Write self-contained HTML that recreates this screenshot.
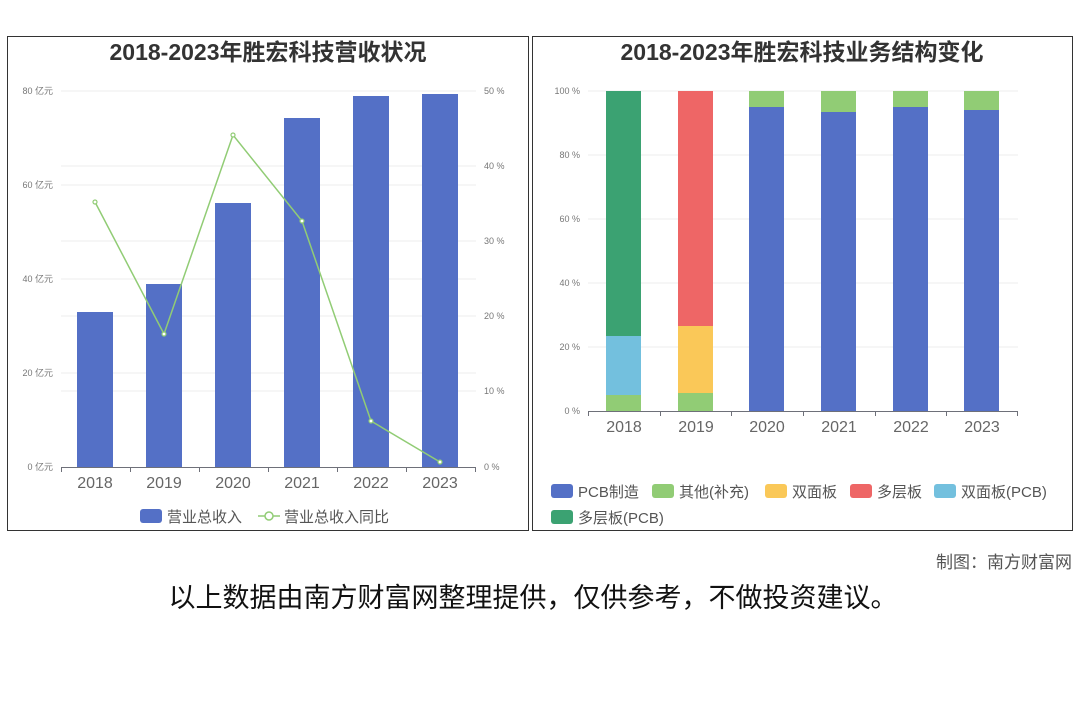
<!DOCTYPE html>
<html><head><meta charset="utf-8"><style>
body{margin:0;background:#fff;width:1080px;height:720px;overflow:hidden;font-family:"Liberation Sans","Noto Sans CJK SC",sans-serif}
svg text{font-family:"Liberation Sans","Noto Sans CJK SC",sans-serif}
</style></head><body>
<svg width="1080" height="720" xmlns="http://www.w3.org/2000/svg">
<rect x="7.5" y="36.5" width="521" height="494" fill="#fff" stroke="#333" stroke-width="1"/>
<rect x="532.5" y="36.5" width="540" height="494" fill="#fff" stroke="#333" stroke-width="1"/>
<text x="268" y="60" text-anchor="middle" font-size="23" font-weight="bold" fill="#333">2018-2023年胜宏科技营收状况</text>
<text x="802" y="60" text-anchor="middle" font-size="23" font-weight="bold" fill="#333">2018-2023年胜宏科技业务结构变化</text>
<g stroke="#eee" stroke-width="1">
<line x1="61" x2="476" y1="91" y2="91"/><line x1="61" x2="476" y1="185" y2="185"/><line x1="61" x2="476" y1="279" y2="279"/><line x1="61" x2="476" y1="373" y2="373"/>
<line x1="61" x2="476" y1="166" y2="166"/><line x1="61" x2="476" y1="241" y2="241"/><line x1="61" x2="476" y1="316" y2="316"/><line x1="61" x2="476" y1="391" y2="391"/>
</g>
<g font-size="9" fill="#777" text-anchor="end">
<text x="53" y="94">80 亿元</text><text x="53" y="188">60 亿元</text><text x="53" y="282">40 亿元</text><text x="53" y="376">20 亿元</text><text x="53" y="470">0 亿元</text>
</g>
<g font-size="9" fill="#777">
<text x="484" y="94">50 %</text><text x="484" y="169">40 %</text><text x="484" y="244">30 %</text><text x="484" y="319">20 %</text><text x="484" y="394">10 %</text><text x="484" y="470">0 %</text>
</g>
<g fill="#5470c6">
<rect x="77" y="312" width="36" height="155"/><rect x="146" y="284" width="36" height="183"/><rect x="215" y="203" width="36" height="264"/><rect x="284" y="118" width="36" height="349"/><rect x="353" y="96" width="36" height="371"/><rect x="422" y="94" width="36" height="373"/>
</g>
<line x1="61" x2="476" y1="467.5" y2="467.5" stroke="#6e7079"/>
<g stroke="#6e7079"><line x1="61.5" x2="61.5" y1="467" y2="472"/><line x1="130.5" x2="130.5" y1="467" y2="472"/><line x1="199.5" x2="199.5" y1="467" y2="472"/><line x1="268.5" x2="268.5" y1="467" y2="472"/><line x1="337.5" x2="337.5" y1="467" y2="472"/><line x1="406.5" x2="406.5" y1="467" y2="472"/><line x1="475.5" x2="475.5" y1="467" y2="472"/></g>
<g font-size="16" fill="#666" text-anchor="middle">
<text x="95" y="488">2018</text><text x="164" y="488">2019</text><text x="233" y="488">2020</text><text x="302" y="488">2021</text><text x="371" y="488">2022</text><text x="440" y="488">2023</text>
</g>
<polyline points="95,202 164,334 233,135 302,221 371,421 440,462" fill="none" stroke="#91cc75" stroke-width="1.5"/>
<g fill="#fff" stroke="#91cc75" stroke-width="1.2">
<circle cx="95" cy="202" r="2"/><circle cx="164" cy="334" r="2"/><circle cx="233" cy="135" r="2"/><circle cx="302" cy="221" r="2"/><circle cx="371" cy="421" r="2"/><circle cx="440" cy="462" r="2"/>
</g>
<rect x="140" y="509" width="22" height="14" rx="3" fill="#5470c6"/>
<text x="167" y="522" font-size="15" fill="#555">营业总收入</text>
<line x1="258" x2="280" y1="516" y2="516" stroke="#91cc75" stroke-width="1.5"/><circle cx="269" cy="516" r="4" fill="#fff" stroke="#91cc75" stroke-width="1.5"/>
<text x="284" y="522" font-size="15" fill="#555">营业总收入同比</text>
<g stroke="#eee"><line x1="588" x2="1018" y1="91" y2="91"/><line x1="588" x2="1018" y1="155" y2="155"/><line x1="588" x2="1018" y1="219" y2="219"/><line x1="588" x2="1018" y1="283" y2="283"/><line x1="588" x2="1018" y1="347" y2="347"/></g>
<g font-size="9" fill="#777" text-anchor="end">
<text x="580" y="94">100 %</text><text x="580" y="158">80 %</text><text x="580" y="222">60 %</text><text x="580" y="286">40 %</text><text x="580" y="350">20 %</text><text x="580" y="414">0 %</text>
</g>
<rect x="606" y="91" width="35" height="245" fill="#3ba272"/>
<rect x="606" y="336" width="35" height="59" fill="#73c0de"/>
<rect x="606" y="395" width="35" height="16" fill="#91cc75"/>
<rect x="678" y="91" width="35" height="235" fill="#ee6666"/>
<rect x="678" y="326" width="35" height="67" fill="#fac858"/>
<rect x="678" y="393" width="35" height="18" fill="#91cc75"/>
<rect x="749" y="91" width="35" height="16" fill="#91cc75"/><rect x="749" y="107" width="35" height="304" fill="#5470c6"/>
<rect x="821" y="91" width="35" height="21" fill="#91cc75"/><rect x="821" y="112" width="35" height="299" fill="#5470c6"/>
<rect x="893" y="91" width="35" height="16" fill="#91cc75"/><rect x="893" y="107" width="35" height="304" fill="#5470c6"/>
<rect x="964" y="91" width="35" height="19" fill="#91cc75"/><rect x="964" y="110" width="35" height="301" fill="#5470c6"/>
<line x1="588" x2="1018" y1="411.5" y2="411.5" stroke="#6e7079"/>
<g stroke="#6e7079"><line x1="588.5" x2="588.5" y1="411" y2="416"/><line x1="660.5" x2="660.5" y1="411" y2="416"/><line x1="731.5" x2="731.5" y1="411" y2="416"/><line x1="803.5" x2="803.5" y1="411" y2="416"/><line x1="875.5" x2="875.5" y1="411" y2="416"/><line x1="946.5" x2="946.5" y1="411" y2="416"/><line x1="1017.5" x2="1017.5" y1="411" y2="416"/></g>
<g font-size="16" fill="#666" text-anchor="middle">
<text x="624" y="432">2018</text><text x="696" y="432">2019</text><text x="767" y="432">2020</text><text x="839" y="432">2021</text><text x="911" y="432">2022</text><text x="982" y="432">2023</text>
</g>
<g font-size="15" fill="#555">
<rect x="551" y="484" width="22" height="14" rx="3" fill="#5470c6"/><text x="578" y="497">PCB制造</text>
<rect x="652" y="484" width="22" height="14" rx="3" fill="#91cc75"/><text x="679" y="497">其他(补充)</text>
<rect x="765" y="484" width="22" height="14" rx="3" fill="#fac858"/><text x="792" y="497">双面板</text>
<rect x="850" y="484" width="22" height="14" rx="3" fill="#ee6666"/><text x="877" y="497">多层板</text>
<rect x="934" y="484" width="22" height="14" rx="3" fill="#73c0de"/><text x="961" y="497">双面板(PCB)</text>
<rect x="551" y="510" width="22" height="14" rx="3" fill="#3ba272"/><text x="578" y="523">多层板(PCB)</text>
</g>
<text x="1072" y="568" text-anchor="end" font-size="17" fill="#555">制图：南方财富网</text>
<text x="533" y="607" text-anchor="middle" font-size="27" fill="#111">以上数据由南方财富网整理提供，仅供参考，不做投资建议。</text>
</svg>
</body></html>
